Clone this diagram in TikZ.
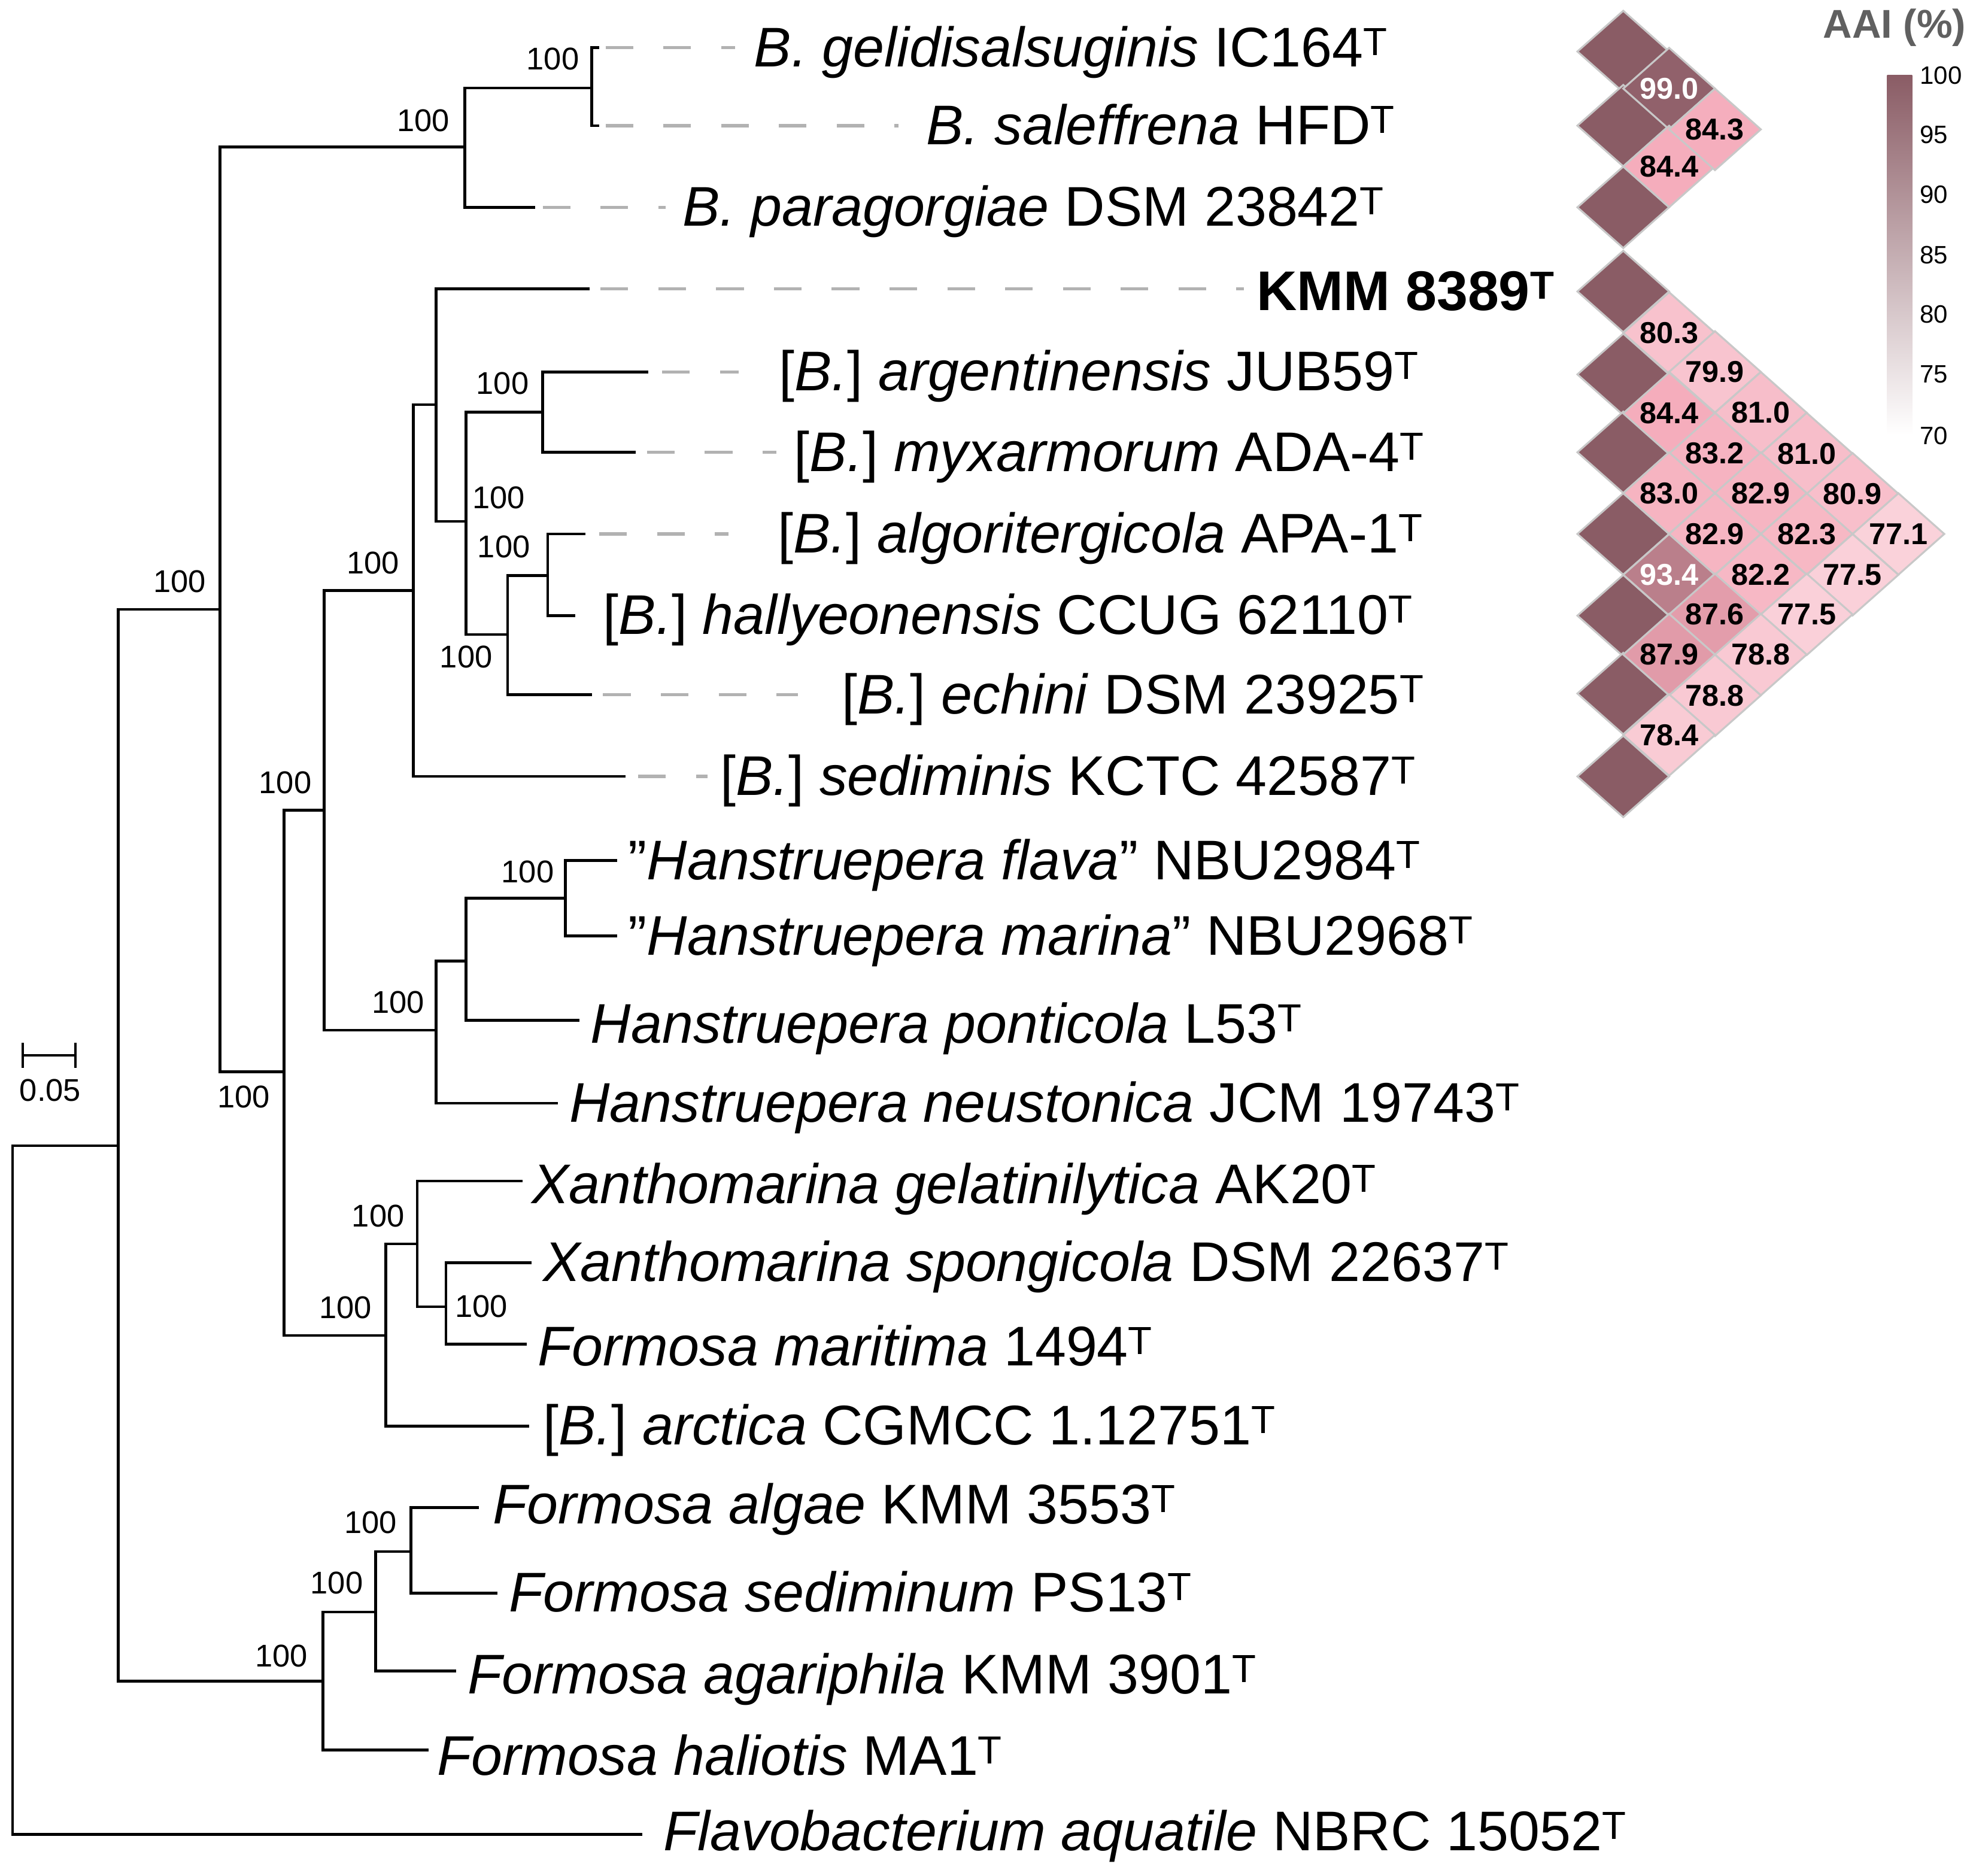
\documentclass[tikz,border=0pt]{standalone}
\usepackage{fontspec}
\setmainfont{Liberation Sans}
\definecolor{aaiD}{HTML}{8A5C65}
\definecolor{aaiP}{HTML}{F5AAB9}
\definecolor{gridc}{HTML}{C8C8C8}
\newcommand\aaicell[4]{%
  \pgfmathtruncatemacro\aaiA{max(0,min(100,(#3-85)/15*100))}%
  \pgfmathtruncatemacro\aaiB{max(0,min(100,(#3-68)/17*100))}%
  \colorlet{aaitmp}{aaiP!\aaiB!white}\colorlet{aaicell}{aaiD!\aaiA!aaitmp}%
  \filldraw[fill=aaicell,draw=gridc,line width=1.5pt] (#1-36.5,#2)--(#1,#2-32.4)--(#1+36.5,#2)--(#1,#2+32.4)--cycle;
  \node[cellnum,text=#4] (c#1x#2) at (#1,#2) {#3};}
\newcommand\leaf[3]{\node[leaflab] (l#2) at (#1,#2+15) {#3};}
\newcommand\bs[2]{\node[bslab] (b#1x#2) at (#1,#2) {100};}
\newcommand\qq{\symbol{34}}
\begin{document}
\begin{tikzpicture}[x=1pt,y=-1pt,
  tree/.style={line width=2.2pt,line cap=rect},
  dsh/.style={line width=2.5pt,gray!60,dash pattern=on 22pt off 24pt},
  leaflab/.style={anchor=base west,inner sep=0,font=\fontsize{44.5}{50}\selectfont},
  bslab/.style={inner sep=0,font=\fontsize{25}{29}\selectfont},
  cellnum/.style={inner sep=0,font=\fontsize{24}{28}\selectfont\bfseries}]
\useasboundingbox (0,0) rectangle (1568,1493);
% tree
\draw[tree] (94,912)-|(10,1460)--(510,1460) (10,912)--(94,912);
\draw[tree] (175,485)-|(94,1338)--(257,1338);
\draw[tree] (370,117)-|(175,853)--(226,853);
\draw[tree] (471,70)-|(370,165)--(425,165);
\draw[tree] (476,38)-|(471,100)--(476,100);
\draw[tree] (258,645)-|(226,1063)--(307,1063);
\draw[tree] (329,470)-|(258,820)--(347,820);
\draw[tree] (347,322)-|(329,618)--(497,618);
\draw[tree] (468,230)-|(347,415)--(371,415);
\draw[tree] (432,328)-|(371,505)--(404,505);
\draw[tree] (515,296)-|(432,360)--(505,360);
\draw[tree] (436,458)-|(404,553)--(470,553);
\draw[tree] (465,425)-|(436,490)--(457,490);
\draw[tree] (371,765)-|(347,878)--(443,878);
\draw[tree] (450,715)-|(371,812)--(460,812);
\draw[tree] (490,685)-|(450,745)--(490,745);
\draw[tree] (332,990)-|(307,1135)--(420,1135);
\draw[tree] (415,940)-|(332,1040)--(355,1040);
\draw[tree] (422,1005)-|(355,1070)--(418,1070);
\draw[tree] (299,1283)-|(257,1393)--(340,1393);
\draw[tree] (327,1235)-|(299,1330)--(362,1330);
\draw[tree] (380,1200)-|(327,1268)--(395,1268);
% dashed extensions
\draw[dsh] (482,38)--(585,38);
\draw[dsh] (482,100)--(715,100);
\draw[dsh] (432,165)--(530,165);
\draw[dsh] (478,230)--(990,230);
\draw[dsh] (527,296)--(588,296);
\draw[dsh] (515,360)--(618,360);
\draw[dsh] (477,425)--(580,425);
\draw[dsh] (480,553)--(635,553);
\draw[dsh] (508,618)--(563,618);
% scale bar
\draw[line width=2pt] (18,840)--(60,840) (18,830)--(18,850) (60,830)--(60,850);
\node[bslab] (scl) at (40,868) {0.05};
% bootstrap
\bs{440}{47}\bs{337}{96}\bs{143}{463}\bs{194}{873}\bs{227}{623}\bs{275}{1041}
\bs{297}{448}\bs{317}{798}\bs{400}{305}\bs{397}{396}\bs{401}{435}\bs{371}{523}
\bs{420}{694}\bs{301}{968}\bs{383}{1040}\bs{268}{1260}\bs{224}{1318}\bs{295}{1212}
% leaves
\leaf{600}{38}{\textit{B. gelidisalsuginis} IC164\textsuperscript{T}}
\leaf{737}{100}{\textit{B. saleffrena} HFD\textsuperscript{T}}
\leaf{543}{165}{\textit{B. paragorgiae} DSM 23842\textsuperscript{T}}
\leaf{1000}{232}{\textbf{KMM 8389\textsuperscript{T}}}
\leaf{620}{296}{[\textit{B.}] \textit{argentinensis} JUB59\textsuperscript{T}}
\leaf{632}{360}{[\textit{B.}] \textit{myxarmorum} ADA-4\textsuperscript{T}}
\leaf{619}{425}{[\textit{B.}] \textit{algoritergicola} APA-1\textsuperscript{T}}
\leaf{480}{490}{[\textit{B.}] \textit{hallyeonensis} CCUG 62110\textsuperscript{T}}
\leaf{670}{553}{[\textit{B.}] \textit{echini} DSM 23925\textsuperscript{T}}
\leaf{573}{618}{[\textit{B.}] \textit{sediminis} KCTC 42587\textsuperscript{T}}
\leaf{500}{685}{\qq\textit{Hanstruepera flava}\qq{} NBU2984\textsuperscript{T}}
\leaf{500}{745}{\qq\textit{Hanstruepera marina}\qq{} NBU2968\textsuperscript{T}}
\leaf{470}{815}{\textit{Hanstruepera ponticola} L53\textsuperscript{T}}
\leaf{453}{878}{\textit{Hanstruepera neustonica} JCM 19743\textsuperscript{T}}
\leaf{423}{943}{\textit{Xanthomarina gelatinilytica} AK20\textsuperscript{T}}
\leaf{432}{1005}{\textit{Xanthomarina spongicola} DSM 22637\textsuperscript{T}}
\leaf{428}{1072}{\textit{Formosa maritima} 1494\textsuperscript{T}}
\leaf{432}{1135}{[\textit{B.}] \textit{arctica} CGMCC 1.12751\textsuperscript{T}}
\leaf{392}{1198}{\textit{Formosa algae} KMM 3553\textsuperscript{T}}
\leaf{405}{1268}{\textit{Formosa sediminum} PS13\textsuperscript{T}}
\leaf{372}{1333}{\textit{Formosa agariphila} KMM 3901\textsuperscript{T}}
\leaf{348}{1398}{\textit{Formosa haliotis} MA1\textsuperscript{T}}
\leaf{528}{1458}{\textit{Flavobacterium aquatile} NBRC 15052\textsuperscript{T}}
% heatmap
\foreach \yy in {41,100,165,232,298,360,425,490,552,618}{\aaicell{1292}{\yy}{100}{aaiD}}
\aaicell{1328.5}{70.5}{99.0}{white}
\aaicell{1328.5}{132.5}{84.4}{black}
\aaicell{1365}{103}{84.3}{black}
\aaicell{1328.5}{265}{80.3}{black}
\aaicell{1365}{296}{79.9}{black}
\aaicell{1328.5}{329}{84.4}{black}
\aaicell{1401.5}{328.5}{81.0}{black}
\aaicell{1365}{361}{83.2}{black}
\aaicell{1438}{361}{81.0}{black}
\aaicell{1328.5}{392.5}{83.0}{black}
\aaicell{1401.5}{392.5}{82.9}{black}
\aaicell{1474.5}{393}{80.9}{black}
\aaicell{1365}{425}{82.9}{black}
\aaicell{1438}{425}{82.3}{black}
\aaicell{1511}{425}{77.1}{black}
\aaicell{1328.5}{457.5}{93.4}{white}
\aaicell{1401.5}{457.5}{82.2}{black}
\aaicell{1474.5}{457.5}{77.5}{black}
\aaicell{1365}{489}{87.6}{black}
\aaicell{1438}{489}{77.5}{black}
\aaicell{1328.5}{521}{87.9}{black}
\aaicell{1401.5}{521}{78.8}{black}
\aaicell{1365}{553.5}{78.8}{black}
\aaicell{1328.5}{585}{78.4}{black}
% colour bar
\shade[top color=aaiD,middle color=aaiP,bottom color=white] (1502,60) rectangle (1522,346);
\node[font=\fontsize{32}{36}\selectfont\bfseries,text=gray!75!black,anchor=east,inner sep=0] (aai) at (1565,22) {AAI (\%)};
\foreach \v/\yy in {100/60,95/107,90/155,85/203,80/250,75/298,70/347}{
  \node[anchor=west,inner sep=0,font=\fontsize{20}{24}\selectfont] (t\v) at (1528,\yy) {\v};}
\end{tikzpicture}
\end{document}
